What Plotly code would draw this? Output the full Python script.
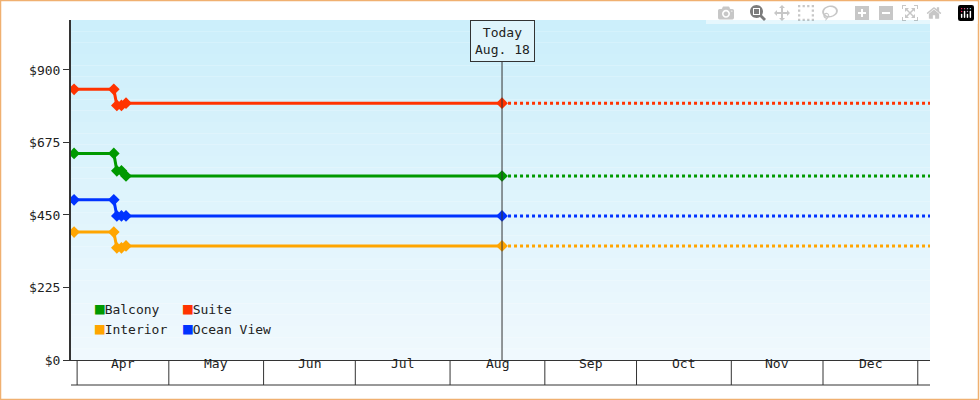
import plotly.graph_objects as go
import pandas as pd

dates = ["2023-03-31", "2023-04-13", "2023-04-14", "2023-04-15 12:00", "2023-04-17", "2023-08-18"]
suite = [840, 840, 790, 790, 797, 797]
balcony = [641, 641, 587, 587, 571, 571]
ocean = [497, 497, 447, 447, 447, 447]
interior = [397, 397, 348, 348, 354, 354]
series = [("Balcony", balcony, "#009900"), ("Suite", suite, "#ff3300"),
          ("Interior", interior, "#ffa500"), ("Ocean View", ocean, "#0033ff")]
today = "2023-08-18"
end = "2024-01-05"
start = "2023-03-30"
months = ["Apr", "May", "Jun", "Jul", "Aug", "Sep", "Oct", "Nov", "Dec"]
yticks = [0, 225, 450, 675, 900]

F = "DejaVu Sans Mono"
fig = go.Figure()
shapes = []
n = 30
top = 1055
for i in range(n):
    t = i / (n - 1)
    r = int(0xf0 + (0xcc - 0xf0) * t)
    g = int(0xf9 + (0xef - 0xf9) * t)
    b = int(0xfe + (0xfb - 0xfe) * t)
    shapes.append(dict(type="rect", xref="paper", yref="y", x0=0, x1=1,
                       y0=top * i / n, y1=top * (i + 1) / n, line_width=0,
                       fillcolor=f"rgb({r},{g},{b})", layer="below"))
for name, vals, col in series:
    fig.add_trace(go.Scatter(x=dates, y=vals, mode="lines+markers", name=name,
                             line=dict(color=col, width=3),
                             marker=dict(symbol="diamond", size=9, color=col)))
    fig.add_trace(go.Scatter(x=[today, end], y=[vals[-1], vals[-1]], mode="lines",
                             line=dict(color=col, width=3, dash="dot"), showlegend=False))
shapes.append(dict(type="line", xref="x", yref="paper", x0=today, x1=today, y0=0, y1=1,
                   line=dict(color="#333", width=1)))
ms = pd.date_range("2023-04-01", "2024-01-01", freq="MS")
for d in ms:
    shapes.append(dict(type="line", xref="x", yref="paper", x0=d, x1=d, y0=0, y1=-25/340,
                       line=dict(color="#333", width=1)))
shapes.append(dict(type="line", xref="paper", yref="paper", x0=0, x1=1, y0=-25/340, y1=-25/340,
                   line=dict(color="#333", width=1)))
shapes.append(dict(type="rect", xref="paper", yref="paper", x0=-70.5/859, x1=1 + 48.5/859,
                   y0=-39.5/340, y1=1 + 19.5/340, line=dict(color="#f0b070", width=1.5)))
ann = []
for i, m in enumerate(months):
    mid = ms[i] + (ms[i + 1] - ms[i]) / 2
    ann.append(dict(x=mid, y=-13/340, xref="x", yref="paper", text=m, showarrow=False,
                    font=dict(family=F, size=13, color="#222")))
ann.append(dict(x=today, y=1, xref="x", yref="paper", yanchor="top", text="Today<br>Aug. 18",
                showarrow=False, bgcolor="#dff4fb", bordercolor="#333", borderwidth=1,
                borderpad=4, font=dict(family=F, size=13, color="#222")))
leg = [("Balcony", "#009900", 93, 320), ("Suite", "#ff3300", 181, 320),
       ("Interior", "#ffa500", 93, 340), ("Ocean View", "#0033ff", 181, 340)]
for name, col, px, py in leg:
    ann.append(dict(x=(px - 71) / 859, y=(360 - py) / 340, xref="paper", yref="paper",
                    xanchor="left", showarrow=False,
                    text=f"<span style='color:{col};font-size:16px'>■</span>{name}",
                    font=dict(family=F, size=13, color="#222")))
fig.update_layout(
    width=980, height=400, margin=dict(l=71, r=50, t=20, b=40),
    paper_bgcolor="white", plot_bgcolor="white", showlegend=False,
    shapes=shapes, annotations=ann,
    xaxis=dict(range=[start, end], showticklabels=False, ticks="", showgrid=False,
               showline=True, linecolor="#333", linewidth=1, zeroline=False),
    yaxis=dict(range=[0, top], tickvals=yticks, ticktext=[f"${v}" for v in yticks],
               ticks="outside", ticklen=6, tickcolor="#333", showgrid=False, zeroline=False,
               showline=True, linecolor="#333", linewidth=2,
               tickfont=dict(family=F, size=13, color="#222")),
)
fig.write_html("out.html", post_script="document.body.style.margin='0';")
